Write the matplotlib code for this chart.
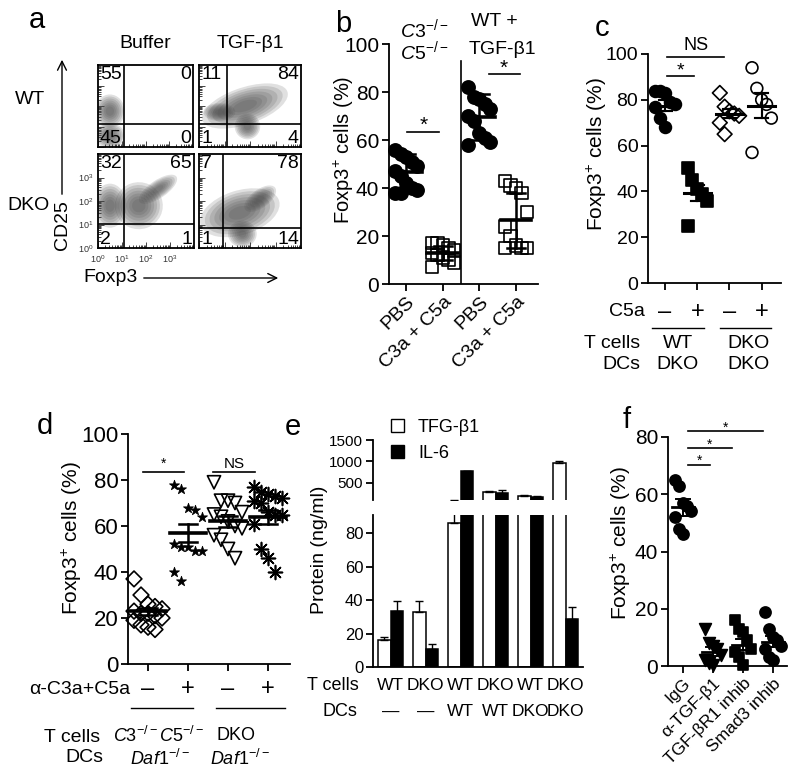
import numpy as np
import matplotlib
matplotlib.use('Agg')
import matplotlib.pyplot as plt
from matplotlib.patches import Ellipse, FancyArrowPatch, Patch
from matplotlib.transforms import blended_transform_factory

plt.rcParams['font.family'] = ['Liberation Sans', 'DejaVu Sans']
plt.rcParams['mathtext.fontset'] = 'custom'
plt.rcParams['mathtext.rm'] = 'Liberation Sans'
plt.rcParams['mathtext.it'] = 'Liberation Sans:italic'
plt.rcParams['mathtext.bf'] = 'Liberation Sans:bold'
plt.rcParams['axes.linewidth'] = 1.3

# ---------------- data ----------------
# a: flow plots (WT buffer, WT TGF, DKO buffer, DKO TGF), quadrants UL, UR, LL, LR
flow_cols = ['Buffer', 'TGF-β1']
flow_rows = ['WT', 'DKO']
quad_pct = [[55, 0, 45, 0], [11, 84, 1, 4], [32, 65, 2, 1], [7, 78, 1, 14]]
gate_x = [1.09, 1.11, 1.08, 0.95]   # log10 units
gate_y = [1.12, 1.12, 1.02, 0.85]
# cell clouds (log10 units)
cloud_plot = [0, 0, 1, 1, 1, 2, 2, 2, 3, 3, 3]
cloud_x = [0.5, 0.5, 1.8, 1.9, 0.8, 0.5, 1.7, 2.5, 1.6, 2.4, 1.7]
cloud_y = [1.75, 0.55, 2.0, 1.0, 1.7, 1.8, 1.8, 2.5, 1.5, 2.1, 0.6]
cloud_w = [1.0, 1.0, 2.9, 0.8, 1.0, 1.1, 1.6, 1.5, 2.6, 1.2, 0.9]
cloud_h = [1.3, 1.0, 1.4, 1.0, 0.7, 1.5, 1.6, 0.6, 1.5, 0.6, 0.9]
cloud_ang = [0, 0, 25, 0, 0, 0, 20, 35, 20, 40, 0]

# b
b_labels = ['PBS', 'C3a + C5a', 'PBS', 'C3a + C5a']
b_pbs1 = [56, 54, 53, 51, 49, 47, 45, 42, 40, 39, 38, 38]
b_c3a1 = [17, 17, 16, 15, 14, 13, 12, 11, 10, 9, 7]
b_pbs2 = [82, 78, 77, 75, 73, 70, 68, 63, 61, 59, 58]
b_c3a2 = [43, 41, 40, 38, 30, 24, 20, 16, 15, 15, 15]
b_mean = [46.5, 13, 69.5, 26.5]
b_sd = [7.5, 3, 9.5, 11.5]

# c
c_c5a = ['–', '+', '–', '+']
c_tcells = ['WT', 'DKO']
c_dcs = ['DKO', 'DKO']
c_wt_neg = [84, 84, 83, 79, 78, 77, 72, 68]
c_wt_pos = [50, 45, 41, 39, 36, 25]
c_dko_neg = [83, 77, 75, 74, 73, 70, 65]
c_dko_pos = [94, 85, 80, 78, 72, 57]
c_mean = [77.5, 39.5, 74, 77.5]
c_sem = [2.5, 3.5, 2, 5.5]

# d
d_ab = ['–', '+', '–', '+']
d_tcells = [r'$\mathit{C3}^{-/-}\mathit{C5}^{-/-}$', 'DKO']
d_dcs = [r'$\mathit{Daf1}^{-/-}$', r'$\mathit{Daf1}^{-/-}$']
d_c35_neg = [37, 30, 26, 25, 24, 23, 22, 22, 21, 20, 19, 17, 16, 15]
d_c35_pos = [78, 76, 68, 67, 64, 52, 51, 51, 49, 49, 40, 36]
d_dko_neg = [79, 71, 71, 70, 66, 65, 64, 62, 60, 59, 56, 54, 50, 46]
d_dko_pos = [77, 75, 74, 73, 72, 71, 70, 66, 65, 65, 61, 50, 46, 40]
d_mean = [23, 57, 62, 64]
d_sem = [1.5, 4, 2.5, 3]

# e
e_tcells = ['WT', 'DKO', 'WT', 'DKO', 'WT', 'DKO']
e_dcs = ['—', '—', 'WT', 'WT', 'DKO', 'DKO']
e_tgf = [16, 33, 86, 290, 200, 960]
e_tgf_err = [2, 6.5, 8, 15, 12, 60]
e_il6 = [33.5, 11, 770, 260, 175, 29]
e_il6_err = [6, 2.5, 15, 70, 12, 7]

# f
f_labels = ['IgG', 'α-TGF-β1', 'TGF-βR1 inhib', 'Smad3 inhib']
f_igg = [65, 63, 57, 56, 54, 52, 48, 46]
f_atgf = [13, 8, 7, 6, 4, 2, 1, 0.5]
f_tgfr = [16, 13, 12, 9, 6, 5, 3, 0.5]
f_smad = [19, 13, 10, 9, 7, 6, 3, 2]
f_mean = [55.5, 5, 7.5, 8.5]
f_sem = [3, 1.6, 2, 2]

# ---------------- helpers ----------------
W, H = 800, 778
fig = plt.figure(figsize=(W / 100, H / 100), dpi=100)


def add_ax(x0, y0, x1, y1):
    return fig.add_axes([x0 / W, 1 - y1 / H, (x1 - x0) / W, (y1 - y0) / H])


def fy(y):
    return 1 - y / H


def style(ax, fs):
    ax.spines['top'].set_visible(False)
    ax.spines['right'].set_visible(False)
    ax.tick_params(direction='out', length=5, width=1.3, labelsize=fs, pad=2)


def dot_group(ax, x, vals, mean, err, marker, face, ms, spread, hw, cap, lw, mew=1.2):
    n = len(vals)
    offs = ((np.arange(n) % 5) - 2) / 2 * spread
    ax.scatter(x + offs, vals, marker=marker, s=ms ** 2, facecolors=face,
               edgecolors='black', linewidths=mew, zorder=3, clip_on=False)
    ax.plot([x - hw, x + hw], [mean, mean], color='black', lw=lw, zorder=4)
    ax.plot([x, x], [mean - err, mean + err], color='black', lw=lw * 0.7, zorder=4)
    for yy in (mean - err, mean + err):
        ax.plot([x - cap, x + cap], [yy, yy], color='black', lw=lw * 0.7, zorder=4)


def bracket(ax, x0, x1, y, label, fs, gap=0.5):
    ax.plot([x0, x1], [y, y], color='black', lw=1.2, clip_on=False)
    ax.text((x0 + x1) / 2, y + gap, label, ha='center', va='bottom', fontsize=fs)


def letter(x, y, s):
    fig.text(x / W, fy(y), s, fontsize=21, ha='center', va='center')


# ---------------- a ----------------
flow_boxes = [(98, 65, 193, 147), (199, 65, 301, 147), (98, 154, 194, 248), (199, 154, 301, 248)]
minor = [d + np.log10(k) for d in range(4) for k in range(2, 10)]
flow_axes = []
for i, box in enumerate(flow_boxes):
    ax = add_ax(*box)
    flow_axes.append(ax)
    ax.set_xlim(0, 4)
    ax.set_ylim(0, 4)
    ax.set_xticks(range(4))
    ax.set_yticks(range(4))
    ax.set_xticks(minor, minor=True)
    ax.set_yticks(minor, minor=True)
    ax.tick_params(which='both', direction='in', top=False, right=False, width=0.7, colors='#444444')
    ax.tick_params(which='major', length=4)
    ax.tick_params(which='minor', length=2)
    if i == 2:
        ax.set_xticklabels(['$10^{%d}$' % k for k in range(4)], fontsize=6.5, color='#333333')
        ax.set_yticklabels(['$10^{%d}$' % k for k in range(4)], fontsize=6.5, color='#333333')
    else:
        ax.set_xticklabels([])
        ax.set_yticklabels([])
    ax.axvline(gate_x[i], color='black', lw=1.2, zorder=2)
    ax.axhline(gate_y[i], color='black', lw=1.2, zorder=2)
    q = quad_pct[i]
    ax.text(0.02, 0.99, str(q[0]), transform=ax.transAxes, ha='left', va='top', fontsize=14, zorder=4)
    ax.text(0.98, 0.99, str(q[1]), transform=ax.transAxes, ha='right', va='top', fontsize=14, zorder=4)
    ax.text(0.02, 0.0, str(q[2]), transform=ax.transAxes, ha='left', va='bottom', fontsize=14, zorder=4)
    ax.text(0.98, 0.0, str(q[3]), transform=ax.transAxes, ha='right', va='bottom', fontsize=14, zorder=4)

# soft density look: stacked translucent ellipses
for k in range(len(cloud_plot)):
    ax = flow_axes[cloud_plot[k]]
    for scale in np.linspace(1.25, 0.35, 7):
        ax.add_patch(Ellipse((cloud_x[k], cloud_y[k]), cloud_w[k] * scale, cloud_h[k] * scale,
                             angle=cloud_ang[k], facecolor='#4a4a4a', edgecolor='none',
                             alpha=0.17, zorder=1))

letter(37, 20, 'a')
fig.text(145 / W, fy(43), flow_cols[0], fontsize=14, ha='center', va='center')
fig.text(250 / W, fy(43), flow_cols[1], fontsize=14, ha='center', va='center')
fig.text(30 / W, fy(100), flow_rows[0], fontsize=14, ha='center', va='center')
fig.text(28 / W, fy(205), flow_rows[1], fontsize=14, ha='center', va='center')
fig.text(63 / W, fy(225), 'CD25', fontsize=14, rotation=90, ha='center', va='center')
fig.text(110 / W, fy(278), 'Foxp3', fontsize=14, ha='center', va='center')
fig.add_artist(FancyArrowPatch((62 / W, fy(197)), (62 / W, fy(57)), transform=fig.transFigure,
                               arrowstyle='->', mutation_scale=16, lw=1, color='black'))
fig.add_artist(FancyArrowPatch((141 / W, fy(278)), (281 / W, fy(278)), transform=fig.transFigure,
                               arrowstyle='->', mutation_scale=16, lw=1, color='black'))

# ---------------- b ----------------
axb = add_ax(389, 44, 538, 284)
style(axb, 15)
axb.set_xlim(-0.47, 3.6)
axb.set_ylim(0, 100)
axb.set_yticks(range(0, 101, 20))
axb.set_xticks(range(4))
axb.set_xticklabels(b_labels, rotation=45, ha='right', rotation_mode='anchor', fontsize=14)
b_sets = [b_pbs1, b_c3a1, b_pbs2, b_c3a2]
b_marks = [('o', 'black', 9.5), ('s', 'none', 9), ('o', 'black', 9.5), ('s', 'none', 9)]
for i in range(4):
    m, f, ms = b_marks[i]
    dot_group(axb, i, b_sets[i], b_mean[i], b_sd[i], m, f, ms, 0.3, 0.42, 0.25, 2.6)
axb.plot([1.5, 1.5], [0, 93], color='black', lw=1.2)
bracket(axb, 0.03, 0.9, 63.5, '*', 15, gap=-1.5)
bracket(axb, 2.25, 3.1, 87.5, '*', 15, gap=-1.5)
fig.text(344 / W, fy(150), 'Foxp3$^{+}$ cells (%)', rotation=90, fontsize=14.5, ha='center', va='center')
fig.text(424 / W, fy(29), r'$\mathit{C3}^{-/-}$', fontsize=14, ha='center', va='center')
fig.text(424 / W, fy(51), r'$\mathit{C5}^{-/-}$', fontsize=14, ha='center', va='center')
fig.text(471 / W, fy(22), 'WT +', fontsize=14, ha='left', va='center')
fig.text(469 / W, fy(50), 'TGF-β1', fontsize=14, ha='left', va='center')
letter(343, 24, 'b')

# ---------------- c ----------------
axc = add_ax(648, 54, 781, 283)
style(axc, 14)
axc.set_xlim(-0.53, 3.6)
axc.set_ylim(0, 100)
axc.set_yticks(range(0, 101, 20))
axc.set_xticks(range(4))
axc.set_xticklabels([])
c_sets = [c_wt_neg, c_wt_pos, c_dko_neg, c_dko_pos]
c_marks = [('o', 'black', 8.5), ('s', 'black', 8.5), ('D', 'none', 7.5), ('o', 'none', 8.5)]
for i in range(4):
    m, f, ms = c_marks[i]
    dot_group(axc, i, c_sets[i], c_mean[i], c_sem[i], m, f, ms, 0.3, 0.42, 0.2, 2.2)
bracket(axc, 0.06, 1.84, 98.7, 'NS', 13, gap=1.5)
bracket(axc, 0.06, 0.9, 90.4, '*', 14, gap=-1.5)
trc = blended_transform_factory(axc.transData, fig.transFigure)
for i, s in enumerate(c_c5a):
    axc.text(i, fy(312), s, transform=trc, ha='center', va='center', fontsize=17)
axc.plot([-0.4, 1.2], [fy(328), fy(328)], transform=trc, clip_on=False, color='black', lw=1)
axc.plot([1.72, 3.28], [fy(328), fy(328)], transform=trc, clip_on=False, color='black', lw=1)
for i, s in enumerate(c_tcells):
    axc.text([0.4, 2.6][i], fy(343), s, transform=trc, ha='center', va='center', fontsize=14)
for i, s in enumerate(c_dcs):
    axc.text([0.4, 2.6][i], fy(365), s, transform=trc, ha='center', va='center', fontsize=14)
fig.text(645 / W, fy(312), 'C5a', fontsize=14, ha='right', va='center')
fig.text(640 / W, fy(343), 'T cells', fontsize=14, ha='right', va='center')
fig.text(640 / W, fy(365), 'DCs', fontsize=14, ha='right', va='center')
fig.text(597 / W, fy(154), 'Foxp3$^{+}$ cells (%)', rotation=90, fontsize=15, ha='center', va='center')
letter(602, 28, 'c')

# ---------------- d ----------------
axd = add_ax(128, 434, 290, 664)
style(axd, 16)
axd.set_xlim(-0.5, 3.55)
axd.set_ylim(0, 100)
axd.set_yticks(range(0, 101, 20))
axd.set_xticks(range(4))
axd.set_xticklabels([])
d_sets = [d_c35_neg, d_c35_pos, d_dko_neg, d_dko_pos]
d_marks = [('D', 'none', 8, 1.2), ('*', 'black', 7.5, 0.6), ('v', 'none', 9.5, 1.2), ((8, 2, 0), 'black', 10, 1.2)]
for i in range(4):
    m, f, ms, mw = d_marks[i]
    dot_group(axd, i, d_sets[i], d_mean[i], d_sem[i], m, f, ms, 0.35, 0.45, 0.22, 2.6, mew=mw)
bracket(axd, -0.125, 0.9, 83.5, '*', 10, gap=0.3)
bracket(axd, 1.625, 2.675, 83.5, 'NS', 11, gap=0.3)
trd = blended_transform_factory(axd.transData, fig.transFigure)
for i, s in enumerate(d_ab):
    axd.text(i, fy(689), s, transform=trd, ha='center', va='center', fontsize=17)
axd.plot([-0.43, 1.13], [fy(708), fy(708)], transform=trd, clip_on=False, color='black', lw=1)
axd.plot([1.7, 3.43], [fy(708), fy(708)], transform=trd, clip_on=False, color='black', lw=1)
for i, s in enumerate(d_tcells):
    axd.text([0.25, 2.2][i], fy(736), s, transform=trd, ha='center', va='center', fontsize=13)
for i, s in enumerate(d_dcs):
    axd.text([0.3, 2.3][i], fy(759), s, transform=trd, ha='center', va='center', fontsize=13)
fig.text(130 / W, fy(689), 'α-C3a+C5a', fontsize=14, ha='right', va='center')
fig.text(100 / W, fy(738), 'T cells', fontsize=14, ha='right', va='center')
fig.text(103 / W, fy(757), 'DCs', fontsize=14, ha='right', va='center')
fig.text(72 / W, fy(538), 'Foxp3$^{+}$ cells (%)', rotation=90, fontsize=15, ha='center', va='center')
letter(45, 426, 'd')

# ---------------- e ----------------
axe_up = add_ax(373, 440, 583, 500)
axe_lo = add_ax(373, 515, 583, 667)
xe = np.arange(len(e_tgf))
bw = 0.35
for ax in (axe_up, axe_lo):
    ax.bar(xe - bw / 2, e_tgf, bw, facecolor='white', edgecolor='black', lw=1.1)
    ax.bar(xe + bw / 2, e_il6, bw, facecolor='black', edgecolor='black', lw=1.1)
    ax.errorbar(xe - bw / 2, e_tgf, yerr=[np.zeros(len(xe)), e_tgf_err], fmt='none',
                ecolor='black', elinewidth=1, capsize=3, capthick=1)
    ax.errorbar(xe + bw / 2, e_il6, yerr=[np.zeros(len(xe)), e_il6_err], fmt='none',
                ecolor='black', elinewidth=1, capsize=3, capthick=1)
    ax.set_xlim(-0.5, 5.5)
    style(ax, 12)
axe_up.set_ylim(100, 1500)
axe_up.set_yticks([500, 1000, 1500])
axe_up.spines['bottom'].set_visible(False)
axe_up.tick_params(axis='x', bottom=False, labelbottom=False)
axe_up.tick_params(axis='y', labelsize=11)
axe_lo.set_ylim(0, 91)
axe_lo.set_yticks(range(0, 81, 20))
axe_lo.tick_params(axis='x', bottom=False, labelbottom=False)
tre = blended_transform_factory(axe_lo.transData, fig.transFigure)
for i in range(len(xe)):
    axe_lo.text(xe[i], fy(685), e_tcells[i], transform=tre, ha='center', va='center', fontsize=12.5)
    axe_lo.text(xe[i], fy(712), e_dcs[i], transform=tre, ha='center', va='center', fontsize=12.5)
fig.text(359 / W, fy(685), 'T cells', fontsize=13, ha='right', va='center')
fig.text(357 / W, fy(712), 'DCs', fontsize=13, ha='right', va='center')
fig.text(319 / W, fy(550), 'Protein (ng/ml)', rotation=90, fontsize=14, ha='center', va='center')
handles = [Patch(facecolor='white', edgecolor='black'), Patch(facecolor='black', edgecolor='black')]
fig.legend(handles, ['TFG-β1', 'IL-6'], loc='upper left', bbox_to_anchor=(391 / W, fy(419)),
           bbox_transform=fig.transFigure, frameon=False, fontsize=13, handlelength=0.7,
           handleheight=0.7, handletextpad=0.8, labelspacing=0.5, borderaxespad=0, borderpad=0)
letter(293, 427, 'e')

# ---------------- f ----------------
axf = add_ax(668, 437, 787, 666)
style(axf, 15)
axf.set_xlim(-0.5, 3.47)
axf.set_ylim(0, 80)
axf.set_yticks(range(0, 81, 20))
axf.set_xticks(range(4))
axf.set_xticklabels(f_labels, rotation=45, ha='right', rotation_mode='anchor', fontsize=12.5)
f_sets = [f_igg, f_atgf, f_tgfr, f_smad]
f_marks = [('o', 'black', 8), ('v', 'black', 8.5), ('s', 'black', 7.5), ('o', 'black', 8)]
for i in range(4):
    m, f, ms = f_marks[i]
    dot_group(axf, i, f_sets[i], f_mean[i], f_sem[i], m, f, ms, 0.27, 0.37, 0.23, 2.0)
bracket(axf, 0.17, 0.9, 70.3, '*', 10, gap=-1.2)
bracket(axf, 0.17, 1.63, 76.2, '*', 10, gap=-1.2)
bracket(axf, 0.17, 2.67, 82, '*', 10, gap=-1.2)
fig.text(621 / W, fy(543), 'Foxp3$^{+}$ cells (%)', rotation=90, fontsize=15, ha='center', va='center')
letter(627, 420, 'f')

fig.savefig('out.png', dpi=100)
